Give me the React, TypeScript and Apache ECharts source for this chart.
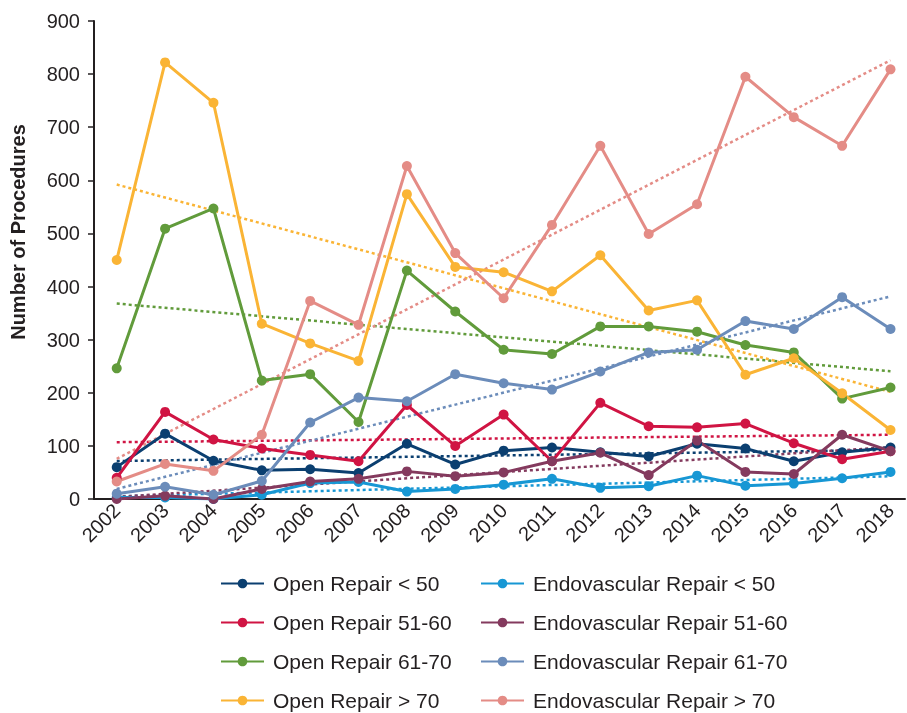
import React, { useEffect, useRef } from "react";
import * as echarts from "echarts";

const years = [2002, 2003, 2004, 2005, 2006, 2007, 2008, 2009, 2010, 2011, 2012, 2013, 2014, 2015, 2016, 2017, 2018];

const openLt50 = [60, 123, 72, 54, 56, 49, 104, 65, 91, 97, 88, 80, 104, 95, 71, 88, 97];
const open51to60 = [40, 164, 112, 95, 83, 71, 177, 100, 159, 71, 181, 137, 135, 142, 105, 75, 90];
const open61to70 = [246, 509, 547, 223, 235, 145, 430, 353, 281, 273, 325, 325, 315, 290, 276, 189, 210];
const openGt70 = [450, 822, 746, 330, 293, 260, 574, 437, 427, 391, 459, 355, 374, 234, 265, 199, 130];
const endoLt50 = [3, 3, 0, 8, 30, 32, 14, 19, 27, 38, 21, 24, 44, 25, 29, 39, 51];
const endo51to60 = [0, 6, 0, 19, 33, 38, 52, 43, 50, 71, 87, 45, 110, 51, 47, 121, 90];
const endo61to70 = [10, 23, 8, 34, 144, 191, 184, 235, 218, 206, 240, 276, 281, 335, 320, 380, 320];
const endoGt70 = [33, 66, 53, 121, 373, 328, 627, 463, 378, 516, 665, 499, 555, 795, 719, 665, 809];

const openNames = ["Open Repair < 50", "Open Repair 51-60", "Open Repair 61-70", "Open Repair > 70"];
const endoNames = ["Endovascular Repair < 50", "Endovascular Repair 51-60", "Endovascular Repair 61-70", "Endovascular Repair > 70"];
const yTicks = [0, 100, 200, 300, 400, 500, 600, 700, 800, 900];

const seriesDefs = [
  { name: openNames[0], values: openLt50, color: "#0b3f70" },
  { name: openNames[1], values: open51to60, color: "#d01443" },
  { name: openNames[2], values: open61to70, color: "#619b3b" },
  { name: openNames[3], values: openGt70, color: "#fab435" },
  { name: endoNames[0], values: endoLt50, color: "#1797d4" },
  { name: endoNames[1], values: endo51to60, color: "#843a5e" },
  { name: endoNames[2], values: endo61to70, color: "#6b8cba" },
  { name: endoNames[3], values: endoGt70, color: "#e48c86" },
];

function linearFit(xs: number[], ys: number[]) {
  const n = xs.length;
  const mx = xs.reduce((a, b) => a + b, 0) / n;
  const my = ys.reduce((a, b) => a + b, 0) / n;
  let sxy = 0;
  let sxx = 0;
  for (let i = 0; i < n; i++) {
    sxy += (xs[i] - mx) * (ys[i] - my);
    sxx += (xs[i] - mx) * (xs[i] - mx);
  }
  const b = sxy / sxx;
  const a = my - b * mx;
  return (x: number) => a + b * x;
}

export default function App() {
  const ref = useRef<HTMLDivElement>(null);
  useEffect(() => {
    if (!ref.current) return;
    const chart = echarts.init(ref.current, undefined, { renderer: "svg" });
    const font = "'Liberation Sans', Arial, Helvetica, sans-serif";
    const textColor = "#231f20";

    const trendSeries = seriesDefs.map((s) => {
      const f = linearFit(years, s.values);
      const first = years[0];
      const last = years[years.length - 1];
      return {
        name: s.name + " trend",
        type: "line",
        data: [
          [first, f(first)],
          [last, f(last)],
        ],
        showSymbol: false,
        symbol: "none",
        silent: true,
        z: 1,
        lineStyle: { color: s.color, width: 2.5, type: [3, 3] },
      };
    });

    const mainSeries = seriesDefs.map((s) => ({
      name: s.name,
      type: "line",
      data: years.map((y, i) => [y, s.values[i]]),
      symbol: "circle",
      symbolSize: 10,
      z: 3,
      itemStyle: { color: s.color },
      lineStyle: { color: s.color, width: 3 },
    }));

    const legendBase = {
      orient: "vertical",
      itemWidth: 43,
      itemHeight: 12,
      itemGap: 18,
      padding: 0,
      height: 200,
      textStyle: { fontSize: 21, color: textColor, fontFamily: font, padding: [0, 0, 0, 4] },
      selectedMode: false,
    };

    chart.setOption({
      animation: false,
      textStyle: { fontFamily: font },
      grid: { left: 94, right: 2, top: 21, bottom: 214, containLabel: false },
      legend: [
        { ...legendBase, data: openNames, left: 220, top: 573 },
        { ...legendBase, data: endoNames, left: 480, top: 573 },
      ],
      xAxis: {
        type: "value",
        min: 2001.53,
        max: 2018.3,
        axisLine: { show: true, lineStyle: { color: textColor, width: 2 } },
        axisTick: { show: false },
        splitLine: { show: false },
        axisLabel: {
          customValues: years,
          formatter: (v: number) => String(v),
          rotate: 45,
          fontSize: 20,
          color: textColor,
          margin: 8,
        },
      },
      yAxis: {
        type: "value",
        min: 0,
        max: 900,
        interval: 100,
        axisLine: { show: true, lineStyle: { color: textColor, width: 2 } },
        axisTick: { show: true, length: 6, lineStyle: { color: textColor, width: 1.5 } },
        splitLine: { show: false },
        axisLabel: {
          customValues: yTicks,
          fontSize: 20,
          color: textColor,
          margin: 14,
        },
      },
      graphic: [
        {
          type: "text",
          x: 18,
          y: 232,
          rotation: Math.PI / 2,
          style: {
            text: "Number of Procedures",
            fontSize: 20,
            fontWeight: "bold",
            fill: textColor,
            fontFamily: font,
            align: "center",
            verticalAlign: "middle",
          },
        },
      ],
      series: [...trendSeries, ...mainSeries],
    });
    return () => chart.dispose();
  }, []);
  return <div ref={ref} style={{ position: "fixed", left: 0, top: 0, width: 907, height: 713 }} />;
}
